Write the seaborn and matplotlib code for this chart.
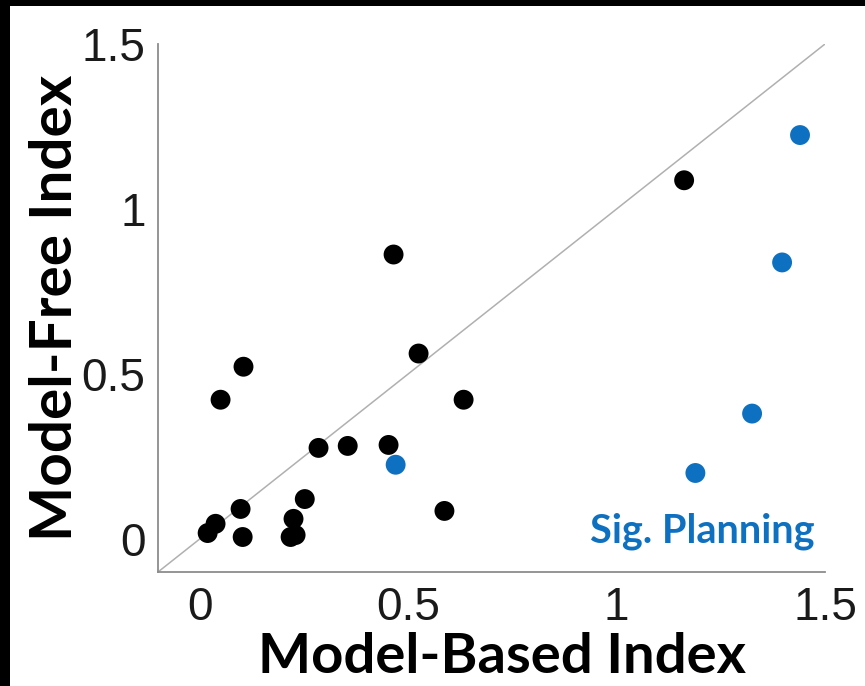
import numpy as np
import pandas as pd
import matplotlib
matplotlib.use("Agg")
import matplotlib.pyplot as plt
from matplotlib.patches import Rectangle
import seaborn as sns

# Per-subject indices (x: model-based, y: model-free)
other_mb = [0.019, 0.038, 0.098, 0.103, 0.050, 0.105, 0.218, 0.230, 0.225,
            0.252, 0.285, 0.355, 0.453, 0.465, 0.525, 0.587, 0.633, 1.162]
other_mf = [0.018, 0.046, 0.091, 0.006, 0.422, 0.522, 0.006, 0.012, 0.061,
            0.121, 0.276, 0.282, 0.285, 0.862, 0.562, 0.085, 0.422, 1.087]

planning_mb = [0.470, 1.189, 1.325, 1.397, 1.440]
planning_mf = [0.225, 0.200, 0.380, 0.838, 1.224]

tick_values = [0, 0.5, 1, 1.5]
tick_labels = ["0", "0.5", "1", "1.5"]
axis_limits = [-0.1, 1.5]

groups = ["Other", "Sig. Planning"]
group_colors = {"Other": "#000000", "Sig. Planning": "#0E70C0"}

df = pd.DataFrame({
    "mb": other_mb + planning_mb,
    "mf": other_mf + planning_mf,
    "group": [groups[0]] * len(other_mb) + [groups[1]] * len(planning_mb),
})

sns.set_style("white")
plt.rcParams["font.family"] = ["Liberation Sans", "DejaVu Sans"]

fig = plt.figure(figsize=(8.65, 6.86), dpi=100)
fig.patch.set_facecolor("white")
ax = fig.add_axes([0.1827, 0.1662, 0.7711, 0.7697])

# identity line
ax.plot(axis_limits, axis_limits, color="#b0b0b0", lw=1.1, zorder=1)

sns.scatterplot(data=df, x="mb", y="mf", hue="group", hue_order=groups,
                palette=group_colors, s=205, linewidth=0, legend=False,
                ax=ax, zorder=3)

ax.set_xlim(axis_limits)
ax.set_ylim(axis_limits)
ax.set_xticks(tick_values)
ax.set_yticks(tick_values)
ax.set_xticklabels(tick_labels)
ax.set_yticklabels(tick_labels)

for side in ["top", "right"]:
    ax.spines[side].set_visible(False)
for side in ["left", "bottom"]:
    ax.spines[side].set_color("#8c8c8c")
    ax.spines[side].set_linewidth(1.3)

ax.tick_params(axis="both", direction="in", length=6, width=1.0,
               color="#8c8c8c", labelsize=33, labelcolor="#1a1a1a")
ax.tick_params(axis="x", pad=10)
ax.tick_params(axis="y", pad=9)

label_font = dict(family=["Lato", "DejaVu Sans"], weight="bold", color="black")
ax.set_xlabel("Model-Based Index", va="baseline", size=40.5, **label_font)
ax.set_ylabel("Model-Free Index", va="baseline", size=42, **label_font)
ax.xaxis.set_label_coords(0.515, -0.1913)
ax.yaxis.set_label_coords(-0.129, 0.5)

ax.text(1.205, -0.01, "Sig. Planning", color=group_colors["Sig. Planning"],
        fontsize=28.5, fontweight="bold", family=["Lato", "DejaVu Sans"],
        ha="center", va="baseline", zorder=4)

# dark frame strips along the top and left edges
fig.patches.append(Rectangle((0, 1 - 6 / 686), 1, 6 / 686, transform=fig.transFigure,
                             facecolor="black", edgecolor="none", zorder=10))
fig.patches.append(Rectangle((0, 0), 10 / 865, 1, transform=fig.transFigure,
                             facecolor="black", edgecolor="none", zorder=10))

fig.savefig("out.png", dpi=100)
